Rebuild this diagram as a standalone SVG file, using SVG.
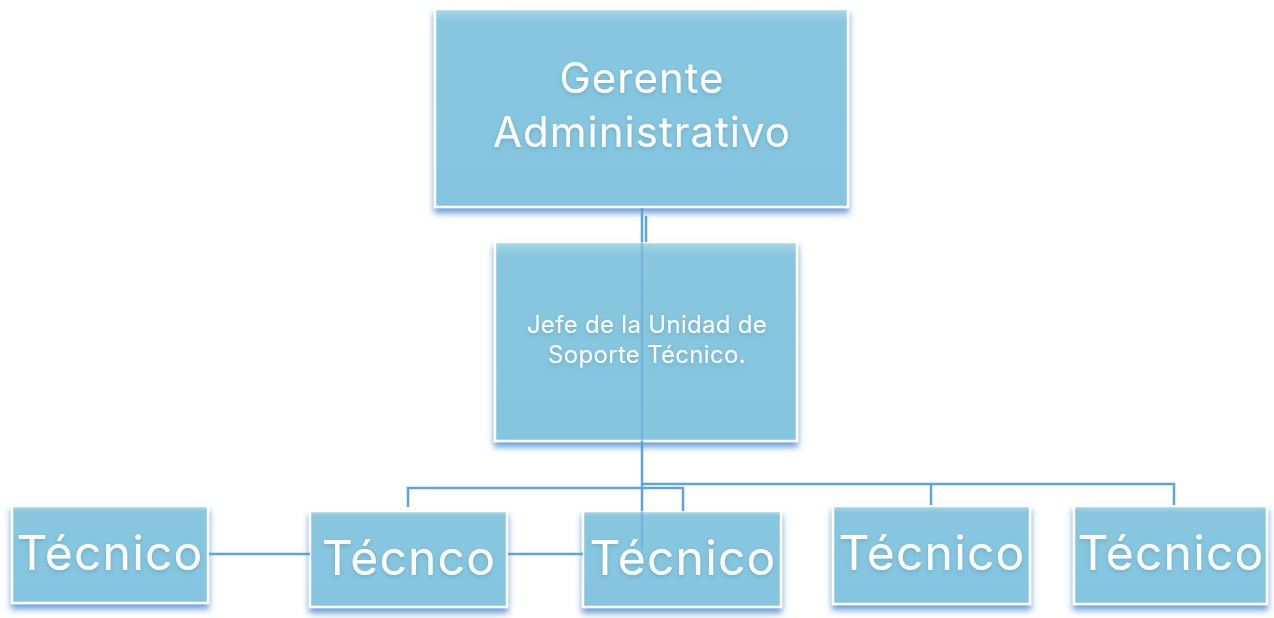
<svg xmlns="http://www.w3.org/2000/svg" width="1274" height="618" viewBox="0 0 1274 618">
<defs>
<linearGradient id="boxFill" x1="0" y1="0" x2="0" y2="1">
<stop offset="0" stop-color="#abdbe7"/>
<stop offset="0.06" stop-color="#88c7df"/>
<stop offset="1" stop-color="#85c5e0"/>
</linearGradient>
<filter id="boxShadow" x="-10%" y="-10%" width="120%" height="130%">
<feDropShadow dx="0" dy="5" stdDeviation="3" flood-color="#4f8fd8" flood-opacity="0.85"/>
</filter>
<filter id="txtShadow" x="-10%" y="-20%" width="120%" height="150%">
<feDropShadow dx="0" dy="2" stdDeviation="2" flood-color="#3a6f90" flood-opacity="0.3"/>
</filter>
</defs>
<style>
.box{fill:url(#boxFill);stroke:#ffffff;stroke-width:2.5;filter:url(#boxShadow)}
.t{font-family:Inter,"Open Sans",sans-serif;fill:#ffffff;text-anchor:middle;filter:url(#txtShadow)}
.big{font-size:48px;letter-spacing:1.2px}
.top{font-size:42px;letter-spacing:1px}
.mid{font-size:24px;letter-spacing:0.3px}
.c{fill:none;stroke:#5ba5d8;stroke-width:2.5}
.ci{fill:none;stroke:#5aa0d2;stroke-width:2.5;opacity:0.45}
</style>
<rect width="1274" height="618" fill="#ffffff"/>
<g id="gerente">
<rect class="box" x="435" y="9" width="413" height="198"/>
<text class="t top" x="642" y="93">Gerente</text>
<text class="t top" x="642" y="147">Administrativo</text>
</g>
<g id="jefe">
<rect class="box" x="495" y="242" width="302" height="199"/>
<text class="t mid" x="647" y="333">Jefe de la Unidad de</text>
<text class="t mid" x="647" y="363">Soporte Técnico.</text>
</g>
<g id="tecnico1">
<rect class="box" x="12" y="506" width="196" height="97"/>
<text class="t big" x="110" y="570">Técnico</text>
</g>
<g id="tecnico2">
<rect class="box" x="310" y="511" width="197" height="96"/>
<text class="t big" x="409" y="575">Técnco</text>
</g>
<g id="tecnico3">
<rect class="box" x="583" y="511" width="198" height="96"/>
<text class="t big" x="683" y="575">Técnico</text>
</g>
<g id="tecnico4">
<rect class="box" x="833" y="506" width="197" height="98"/>
<text class="t big" x="932" y="570">Técnico</text>
</g>
<g id="tecnico5">
<rect class="box" x="1074" y="506" width="193" height="98"/>
<text class="t big" x="1171" y="570">Técnico</text>
</g>
<g id="connectors">
<path class="c" d="M642 208 V242"/>
<path class="c" d="M646 216 V242" stroke-width="1.5"/>
<path class="ci" d="M642 242 V441"/>
<path class="c" d="M642 441 V511"/>
<path class="ci" d="M642 511 V550"/>
<path class="c" d="M408 507 V488 H683 V511"/>
<path class="c" d="M642 484 H1174 V505"/>
<path class="c" d="M931 484 V505"/>
<path class="c" d="M209 554 H310"/>
<path class="c" d="M508 554 H583"/>
</g>
</svg>
